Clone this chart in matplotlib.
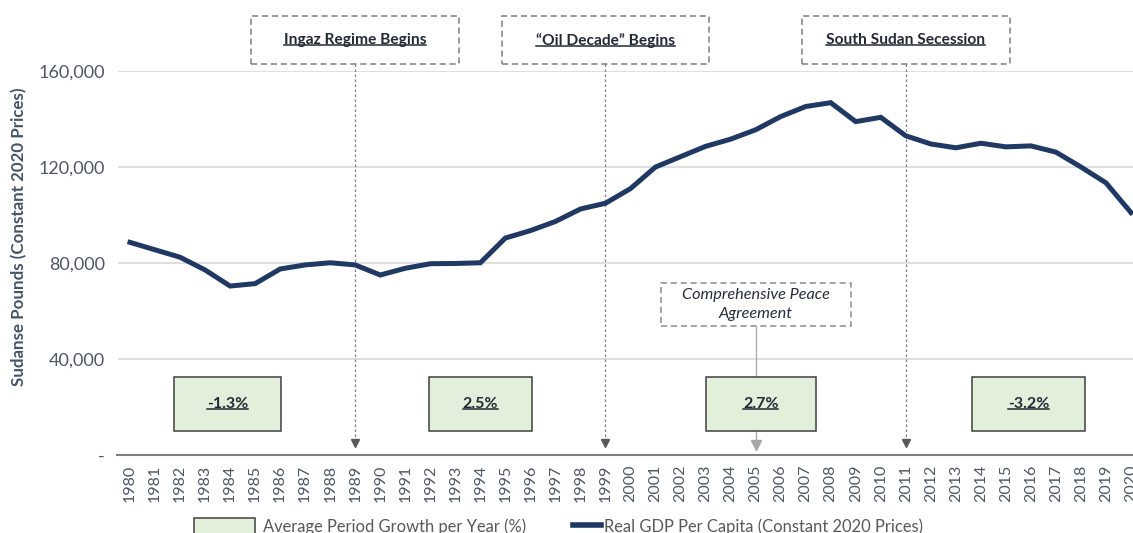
import matplotlib.pyplot as plt
import matplotlib.transforms as mtransforms
from matplotlib.patches import Rectangle, Patch
from matplotlib.lines import Line2D
from matplotlib.ticker import FuncFormatter

plt.rcParams['font.family'] = ['Lato', 'DejaVu Sans']

years = list(range(1980, 2021))
gdp_per_capita = [88600, 85500, 82400, 77100, 70400, 71400, 77500, 79200, 80100, 79200,
                  75000, 77800, 79700, 79800, 80100, 90400, 93500, 97300, 102500, 104900,
                  111000, 120000, 124300, 128600, 131600, 135500, 141000, 145200, 146800, 138900,
                  140700, 133000, 129600, 128000, 129900, 128400, 128800, 126200, 120000, 113400,
                  101000]

event_labels = ["Ingaz Regime Begins", "\u201cOil Decade\u201d Begins", "South Sudan Secession"]
event_years = [1989, 1999, 2011]
cpa_label = "Comprehensive Peace\nAgreement"
cpa_year = 2005

growth_labels = ["-1.3%", "2.5%", "2.7%", "-3.2%"]

NAVY = '#1F3864'
TEXT = '#222A35'
GREY = '#595959'
TICK = '#4D5766'

fig = plt.figure(figsize=(11.33, 5.33), dpi=100)
ax = fig.add_axes([117.5 / 1133, 78 / 533, 1026 / 1133, 384 / 533])

x = list(range(len(years)))
ax.plot(x, gdp_per_capita, color=NAVY, lw=3.6, solid_joinstyle='miter', zorder=3)

ax.set_xlim(-0.5, len(years) - 0.5)
ax.set_ylim(0, 160000)
ax.set_yticks([0, 40000, 80000, 120000, 160000])
ax.yaxis.set_major_formatter(FuncFormatter(lambda v, p: '-' if v == 0 else f'{v:,.0f}'))
ax.set_xticks(x)
ax.set_xticklabels([str(y) for y in years], rotation=90)
ax.tick_params(axis='y', length=0, pad=9, labelsize=13, labelcolor=TICK)
ax.tick_params(axis='x', length=0, pad=7, labelsize=11.5, labelcolor=TICK)
ax.grid(axis='y', color='#D9D9D9', lw=1.2)
ax.set_axisbelow(True)
for s in ['top', 'right', 'left']:
    ax.spines[s].set_visible(False)
ax.spines['bottom'].set_color('#7F7F7F')
ax.spines['bottom'].set_linewidth(1.5)
ax.set_ylabel('Sudanse Pounds (Constant 2020 Prices)', fontsize=12.2, fontweight='bold',
              color='#44546A')
ax.yaxis.set_label_coords(-0.088, 0.568)

trans = mtransforms.blended_transform_factory(ax.transData, ax.transAxes)
underlined = []

# event boxes above the plot with dotted arrows down to the axis
box_w = 8.3
for label, yr in zip(event_labels, event_years):
    xi = years.index(yr)
    ax.add_patch(Rectangle((xi - box_w / 2, 1.018), box_w, 0.125, transform=trans,
                           facecolor='white', edgecolor='#7F7F7F', lw=1.1, ls=(0, (4, 2.5)),
                           clip_on=False, zorder=4))
    t = ax.text(xi, 1.08, label, transform=trans, ha='center', va='center', fontsize=11.2,
                fontweight='bold', color=TEXT, clip_on=False, zorder=5)
    underlined.append(t)
    ax.plot([xi, xi], [1.018, 0.03], transform=trans, color='#7F7F7F', lw=0.9,
            ls=(0, (2, 2)), clip_on=False, zorder=2)
    ax.plot([xi], [0.03], transform=trans, marker='v', ms=6, color='#595959',
            clip_on=False, zorder=2)

# peace agreement box
xi = years.index(cpa_year)
ax.add_patch(Rectangle((xi - 3.8, 0.336), 7.6, 0.112, transform=trans,
                       facecolor='white', edgecolor='#8C8C8C', lw=1.1, ls=(0, (4, 2.5)),
                       clip_on=False, zorder=4))
ax.text(xi, 0.392, cpa_label, transform=trans, ha='center', va='center', fontsize=11.7,
        fontstyle='italic', color='#262F3D', linespacing=1.5, zorder=5)
ax.plot([xi, xi], [0.336, 0.025], transform=trans, color='#A6A6A6', lw=0.9, zorder=2)
ax.plot([xi], [0.025], transform=trans, marker='v', ms=7, color='#A6A6A6', zorder=2)

# average growth boxes
growth_box_x = [3.9, 14.0, 25.2, 35.9]
growth_box_w = [4.3, 4.1, 4.4, 4.5]
for label, cx, w in zip(growth_labels, growth_box_x, growth_box_w):
    ax.add_patch(Rectangle((cx - w / 2, 10000), w, 22500, facecolor='#E2EFDA',
                           edgecolor='#404040', lw=1.1, zorder=4))
    t = ax.text(cx, 21250, label, ha='center', va='center', fontsize=11.5,
                fontweight='bold', color=TEXT, zorder=5)
    underlined.append(t)

# legend: two entries with different handle lengths, as in the source
leg_kw = dict(frameon=False, fontsize=11.9, labelcolor=GREY, borderpad=0,
              borderaxespad=0, handleheight=1.2)
fig.legend([Patch(facecolor='#E2EFDA', edgecolor='#404040', lw=1.1)],
           ['Average Period Growth per Year (%)'], loc='center left',
           bbox_to_anchor=(194 / 1133, 0.012), handlelength=3.7, handletextpad=0.5, **leg_kw)
fig.legend([Line2D([0], [0], color=NAVY, lw=4)],
           ['Real GDP Per Capita (Constant 2020 Prices)'], loc='center left',
           bbox_to_anchor=(573 / 1133, 0.012), handlelength=1.7, handletextpad=0.15, **leg_kw)

fig.canvas.draw()
renderer = fig.canvas.get_renderer()
inv = fig.transFigure.inverted()
for t in underlined:
    bb = t.get_window_extent(renderer)
    (x0, y0), (x1, _) = inv.transform([(bb.x0, bb.y0 + 2), (bb.x1, bb.y0 + 2)])
    fig.add_artist(Line2D([x0, x1], [y0, y0], transform=fig.transFigure,
                          color=TEXT, lw=1.1, zorder=6))

fig.savefig('out.png', dpi=100)
